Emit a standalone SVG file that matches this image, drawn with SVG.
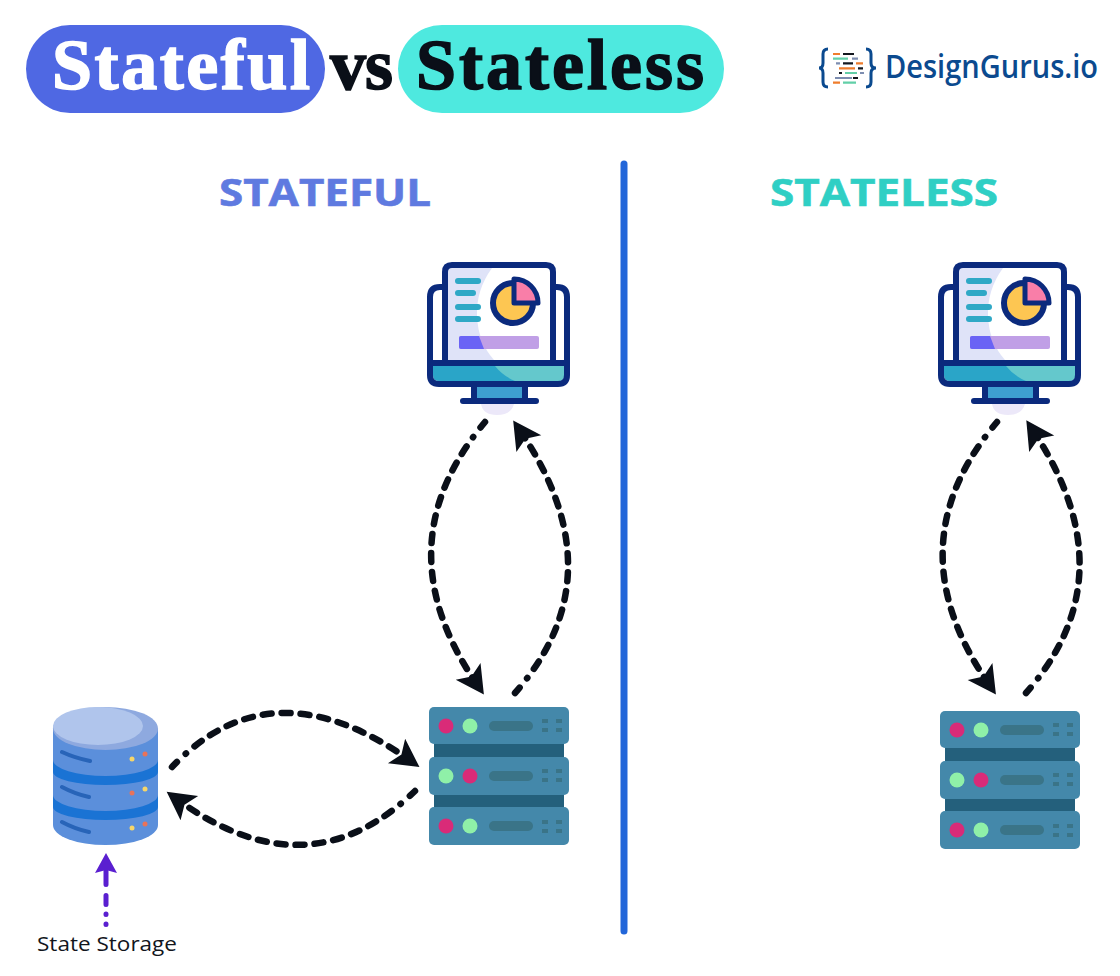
<svg xmlns="http://www.w3.org/2000/svg" xmlns:xlink="http://www.w3.org/1999/xlink" width="1120" height="976" viewBox="0 0 1120 976">
<style>
.ttl{font-family:"Liberation Serif",serif;font-weight:700;font-size:72px;stroke-width:1.6px}
.sec{font-family:"Open Sans","Liberation Sans",sans-serif;font-weight:700;font-size:38px;stroke-width:.6px}
.lab{font-family:"Open Sans","Liberation Sans",sans-serif;font-size:20.500px;fill:#12151c}
.dash{fill:none;stroke:#0a0f18;stroke-width:6.500;stroke-linecap:round;stroke-dasharray:7 12 .5 11 9 10 9 10 9 10 9 10 9 10 9 10 9 10 9 10 9 10 9 10 9 10 9 10 9 10 9 10 9 10 9 10 9 10 9 10 9 10 9 10;marker-end:url(#head)}
.pdash{fill:none;stroke:#5a1fd0;stroke-width:5;stroke-linecap:round;stroke-dasharray:.5 9.500 .5 9.500 9 11 20 50;marker-end:url(#phead)}
.dk{fill:none;stroke:#0b2a7d;stroke-width:6;stroke-linejoin:round;stroke-linecap:round}
.tl{fill:none;stroke:#2fa8c6;stroke-width:6;stroke-linecap:round}
.unit{fill:#4488aa}
.gap{fill:#24607c}
.slot{fill:#3a7488}
.pk{fill:#d92b78}
.gr{fill:#8ff0a8}
.lg{stroke-width:2.200;fill:none}
.or{stroke:#ef7d2d}.bk{stroke:#14181f}.gn{stroke:#62cfa8}.gy{stroke:#7d8db0}
.band{fill:#1a73d4}
.sl{fill:none;stroke:#2864b8;stroke-width:4;stroke-linecap:round}
.y{fill:#f6d66a}.r{fill:#e8735a}
</style>
<defs>
<marker id="head" viewBox="-20 -20 40 40" refX="0" refY="0" markerWidth="40" markerHeight="40" markerUnits="userSpaceOnUse" orient="auto"><path d="M14 0L-14 -15L-8 0L-14 15Z" fill="#0a0f18"/></marker>
<marker id="phead" viewBox="-16 -16 32 32" refX="0" refY="0" markerWidth="32" markerHeight="32" markerUnits="userSpaceOnUse" orient="auto"><path d="M12 0L-8 -11L-5 0L-8 11Z" fill="#5a1fd0"/></marker>
<g id="monitor">
<path d="M481 404Q483 415 497 415Q511 415 514 404Z" fill="#ece8f9"/>
<rect x="445" y="265" width="108" height="98" rx="6" fill="#fff"/>
<path d="M448 268H492Q476 290 477 316Q478 342 494 360H448Z" fill="#dfe3f8"/>
<path d="M433 366H564V375Q564 381 558 381H439Q433 381 433 375Z" fill="#2aa5c8"/>
<path d="M495 366H564V375Q564 381 558 381H515Q503 376 495 366Z" fill="#64c8cc"/>
<rect x="475" y="387" width="49" height="12" fill="#3e9fd0"/>
<path class="dk" d="M445 363V272Q445 265 452 265H546Q553 265 553 272V363"/>
<path class="dk" d="M445 287H440Q430 287 430 297V375Q430 384 439 384H558Q567 384 567 375V297Q567 287 557 287H553M430 363H567"/>
<path class="dk" d="M474 386V400M525 386V400M463 401H536"/>
<path class="tl" d="M458 281H478M458 293H473M458 307H478M458 319H478"/>
<circle cx="513" cy="303" r="20" fill="#fdc652" stroke="#0b2a7d" stroke-width="6"/>
<path d="M514 303V279A24 24 0 0 1 538 303Z" fill="#f97ea8" stroke="#0b2a7d" stroke-width="5" stroke-linejoin="round"/>
<rect x="459" y="336" width="80" height="13" rx="2" fill="#c09fe6"/>
<path d="M461 336H479L484 349H461Q459 349 459 347V338Q459 336 461 336Z" fill="#6a63f5"/>
</g>
<g id="server">
<rect class="gap" x="434" y="742" width="130" height="18"/>
<rect class="gap" x="434" y="793" width="130" height="18"/>
<rect class="unit" x="429" y="707" width="140" height="37" rx="5"/>
<rect class="unit" x="429" y="757" width="140" height="38" rx="5"/>
<rect class="unit" x="429" y="807" width="140" height="38" rx="5"/>
<g class="slot">
<rect x="489" y="721" width="44" height="10" rx="5"/><rect x="489" y="771" width="44" height="10" rx="5"/><rect x="489" y="821" width="44" height="10" rx="5"/>
<path d="M542 719h6v4h-6zM556 719h6v4h-6zM542 728h6v4h-6zM556 728h6v4h-6zM542 769h6v4h-6zM556 769h6v4h-6zM542 778h6v4h-6zM556 778h6v4h-6zM542 820h6v4h-6zM556 820h6v4h-6zM542 829h6v4h-6zM556 829h6v4h-6z"/>
</g>
<circle class="pk" cx="446" cy="726" r="7.500"/><circle class="gr" cx="470" cy="726" r="7.500"/>
<circle class="gr" cx="446" cy="776" r="7.500"/><circle class="pk" cx="470" cy="776" r="7.500"/>
<circle class="pk" cx="446" cy="826" r="7.500"/><circle class="gr" cx="470" cy="826" r="7.500"/>
</g>
</defs>
<rect width="1120" height="976" fill="#fff"/>
<g id="title">
<rect x="26" y="25" width="299" height="88" rx="44" fill="#4f68e3"/>
<rect x="398" y="25" width="326" height="88" rx="44" fill="#4ee9df"/>
<text class="ttl" x="52" y="89" fill="#fff" stroke="#fff" textLength="258">Stateful</text>
<text class="ttl" x="330" y="89" fill="#0a0f18" stroke="#0a0f18" textLength="63">vs</text>
<text class="ttl" x="416" y="89" fill="#0a0f18" stroke="#0a0f18" textLength="288">Stateless</text>
</g>
<g id="logo">
<path d="M828 49Q823 49 823 54V63Q823 68 819 68Q823 68 823 73V82Q823 87 828 87M866 49Q871 49 871 54V63Q871 68 876 68Q871 68 871 73V82Q871 87 866 87" fill="none" stroke="#0b4a8f" stroke-width="3"/>
<path class="lg or" d="M833 54h7M856 63.300h7M839 68.300h16M833 82.700h7"/>
<path class="lg bk" d="M843 54h11M843 63.300h10M858 68.300h5M839 73h3M853 78h5"/>
<path class="lg gn" d="M833 58.700h15M845 73h12M843 82.700h13"/>
<path class="lg gy" d="M852 58.700h6M836 63.300h4M860 73h4M835 78h17"/>
<text x="885" y="78" font-family="'Open Sans','Liberation Sans',sans-serif" font-weight="600" font-size="32" fill="#0b4a8f" textLength="213" lengthAdjust="spacingAndGlyphs">DesignGurus.io</text>
</g>
<g id="divider"><path d="M624 164V931" stroke="#2266d9" stroke-width="7" stroke-linecap="round"/></g>
<g id="stateful-heading"><text class="sec" x="219" y="206" fill="#5f7ae0" stroke="#5f7ae0" textLength="212" lengthAdjust="spacingAndGlyphs">STATEFUL</text></g>
<g id="stateless-heading"><text class="sec" x="770" y="206" fill="#2fcfc4" stroke="#2fcfc4" textLength="228" lengthAdjust="spacingAndGlyphs">STATELESS</text></g>
<g id="client-stateful"><use href="#monitor" xlink:href="#monitor"/></g>
<g id="client-stateless"><use href="#monitor" xlink:href="#monitor" x="511"/></g>
<g id="server-stateful"><use href="#server" xlink:href="#server"/></g>
<g id="server-stateless"><use href="#server" xlink:href="#server" x="511" y="4"/></g>
<g id="database">
<path d="M53 729V825A52.500 20 0 0 0 158 825V729Z" fill="#5b8fdb"/>
<path class="band" d="M53 760A52.500 16 0 0 0 158 760V772A52.500 13 0 0 1 53 772Z"/>
<path class="band" d="M53 795A52.500 16 0 0 0 158 795V807A52.500 13 0 0 1 53 807Z"/>
<ellipse cx="105.500" cy="728.500" rx="52.500" ry="21.500" fill="#8ea9df"/>
<ellipse cx="98" cy="726" rx="45" ry="19" fill="#b0c5ec"/>
<path class="sl" d="M62 752Q75 758 90 761M62 787Q75 794 89 797M62 822Q75 829 89 832"/>
<circle class="y" cx="132" cy="759" r="2.500"/><circle class="r" cx="145" cy="754" r="2.500"/>
<circle class="r" cx="132" cy="793" r="2.500"/><circle class="y" cx="145" cy="789" r="2.500"/>
<circle class="y" cx="132" cy="828" r="2.500"/><circle class="r" cx="145" cy="824" r="2.500"/>
</g>
<g id="connectors">
<path class="dash" d="M485 422Q382 545 476 683"/>
<path class="dash" d="M515 693Q618 576 521 432"/>
<path class="dash" d="M172 767Q271 663 408 759"/>
<path class="dash" d="M415 791Q308 894 178 800"/>
<path class="dash" d="M997 422Q893 545 988 683"/>
<path class="dash" d="M1026 693Q1129 576 1034 432"/>
<path class="pdash" d="M106 924.500V865"/>
</g>
<g id="state-storage-label"><text class="lab" x="37" y="951" textLength="140" lengthAdjust="spacingAndGlyphs">State Storage</text></g>
</svg>
